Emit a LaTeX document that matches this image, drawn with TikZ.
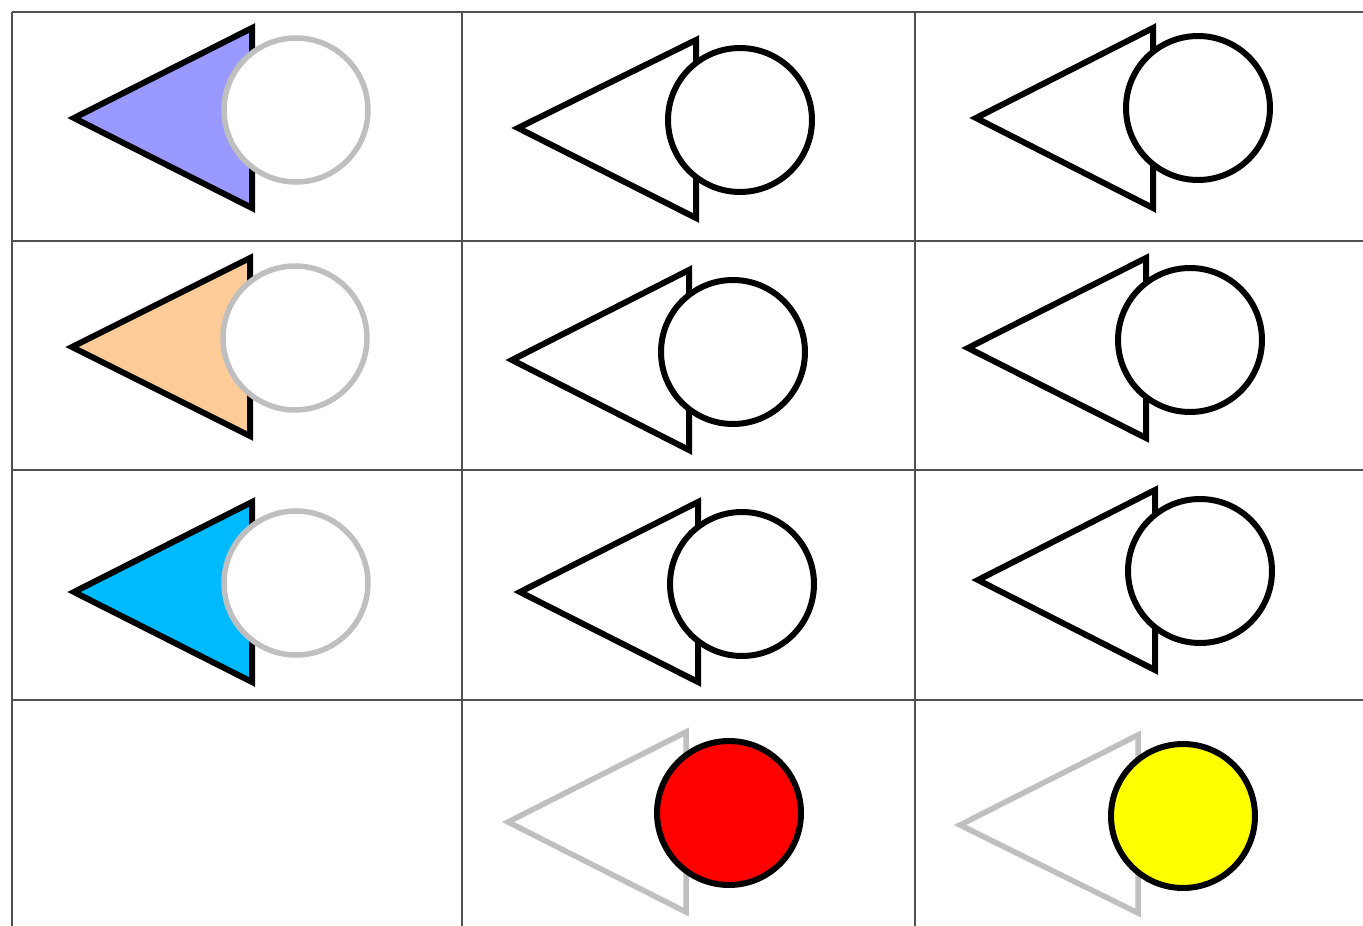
\documentclass[tikz,border=0pt]{standalone}
\usepackage{xcolor}
\definecolor{tri-lavender}{HTML}{9999FF}
\definecolor{tri-peach}{HTML}{FFCC99}
\definecolor{tri-sky}{HTML}{00BAFF}
\definecolor{pale-grey}{HTML}{BFBFBF}
\definecolor{grid-grey}{HTML}{505050}
\definecolor{disc-red}{HTML}{FF0000}
\definecolor{disc-yellow}{HTML}{FFFF00}

\begin{document}
\begin{tikzpicture}[x=0.02cm, y=-0.02cm,
    tri/.style={draw=black, fill=white, line width=0.12cm},
    disc/.style={draw=black, fill=white, line width=0.12cm},
    faded/.style={draw=pale-grey, fill=white, line width=0.11cm},
    gridline/.style={draw=grid-grey, line width=0.045cm}]
    % Table of 4 x 3 cells, units are pixels of a 1363 x 926 page (y down)
    %   columns split at x=12, 462, 915; rows split at y=12, 241, 470, 700
    %   each cell: left-pointing triangle (178 wide, 180 high) + circle r=72
    \fill[white] (0,0) rectangle (1363,926);
    \useasboundingbox (0,0) rectangle (1363,926);
    \draw[gridline] (12,12) -- (1363,12);
    \draw[gridline] (12,241) -- (1363,241);
    \draw[gridline] (12,470) -- (1363,470);
    \draw[gridline] (12,700) -- (1363,700);
    \draw[gridline] (12,12) -- (12,926);
    \draw[gridline] (462,12) -- (462,926);
    \draw[gridline] (915,12) -- (915,926);

    % first column: coloured triangles, pale circles on top
    \draw[tri, fill=tri-lavender] (74,118) -- (252,28) -- (252,208) -- cycle;
    \draw[faded] (296,110) circle (1.44cm);
    \draw[tri, fill=tri-peach] (72,347) -- (250,258) -- (250,436) -- cycle;
    \draw[faded] (295,338) circle (1.44cm);
    \draw[tri, fill=tri-sky] (74,592) -- (252,502) -- (252,682) -- cycle;
    \draw[faded] (296,583) circle (1.44cm);

    % middle and right columns: plain outlines
    \draw[tri] (518,128) -- (696,40) -- (696,218) -- cycle;
    \draw[disc] (740,120) circle (1.44cm);
    \draw[tri] (976,118) -- (1153,28) -- (1153,208) -- cycle;
    \draw[disc] (1198,108) circle (1.44cm);
    \draw[tri] (512,360) -- (689,270) -- (689,450) -- cycle;
    \draw[disc] (733,352) circle (1.44cm);
    \draw[tri] (968,348) -- (1146,258) -- (1146,438) -- cycle;
    \draw[disc] (1190,340) circle (1.44cm);
    \draw[tri] (520,592) -- (698,502) -- (698,682) -- cycle;
    \draw[disc] (742,584) circle (1.44cm);
    \draw[tri] (978,580) -- (1155,490) -- (1155,670) -- cycle;
    \draw[disc] (1200,571) circle (1.44cm);

    % bottom row: pale triangles, filled circles
    \draw[faded] (508,822) -- (686,732) -- (686,912) -- cycle;
    \draw[disc, fill=disc-red] (729,813) circle (1.44cm);
    \draw[faded] (960,825) -- (1138,735) -- (1138,913) -- cycle;
    \draw[disc, fill=disc-yellow] (1183,816) circle (1.44cm);
\end{tikzpicture}
\end{document}
